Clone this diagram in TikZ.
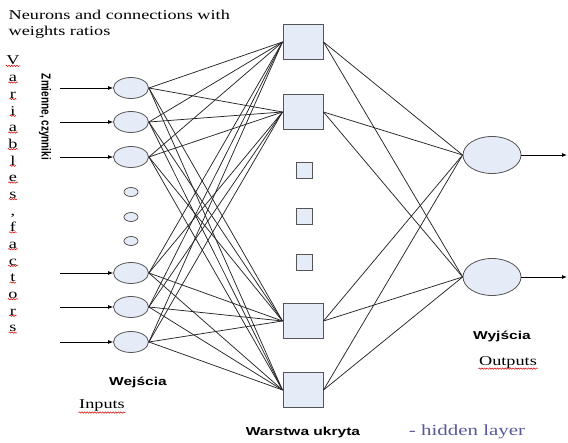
\documentclass[tikz,border=0pt]{standalone}
\usepackage{fontspec}
\setmainfont{Liberation Serif}
\setsansfont{Liberation Sans}
\usepackage{graphicx}
\usetikzlibrary{arrows.meta,shapes.geometric,decorations.pathmorphing}

\definecolor{cellfill}{RGB}{230,236,247}
\definecolor{cellline}{RGB}{85,85,85}
\definecolor{notecol}{RGB}{88,88,150}
\newcommand{\wide}[1]{\scalebox{1.35}[1]{#1}}

\begin{document}
\begin{tikzpicture}[x=1pt,y=-1pt,
    neuron/.style={ellipse,draw=cellline,fill=cellfill,line width=0.8pt,inner sep=0pt,
      minimum width=35pt,minimum height=21pt},
    dotneuron/.style={neuron,minimum width=14pt,minimum height=9pt},
    unit/.style={rectangle,draw=cellline,fill=cellfill,line width=1pt,inner sep=0pt,
      minimum width=40pt,minimum height=35pt},
    dotunit/.style={unit,line width=0.8pt,minimum width=16pt,minimum height=16pt},
    outneuron/.style={neuron,minimum width=58pt,minimum height=37pt},
    link/.style={draw=black!85,line width=0.75pt},
    feed/.style={draw=black,line width=0.8pt,-{Latex[length=5pt,width=4pt]}},
    txt/.style={inner sep=0.5pt,font=\fontsize{13.5}{15}\selectfont},
    lbl/.style={inner sep=0pt,font=\fontsize{11.5}{13}\selectfont\sffamily\bfseries},
    spell/.style={draw=red!85!black,line width=0.5pt,decorate,
      decoration={snake,amplitude=0.7pt,segment length=2.6pt}}]

    \useasboundingbox (0,0) rectangle (568,443);

    % Heading
    \node[txt,anchor=base west] (head1) at (8,20) {\wide{Neurons and connections with}};
    \node[txt,anchor=base west] (head2) at (8,36) {\wide{weights ratios}};

    % Spelled column on the far left
    \foreach \ch [count=\i] in {V,a,r,i,a,b,l,e,s,{,},f,a,c,t,o,r,s} {
      \node[txt,anchor=base] (ltr\i) at (13,{65+16.67*(\i-1)}) {\wide{\ch}};
      \ifnum\i=10\else
        \draw[spell] (ltr\i.south west) -- (ltr\i.south east);
      \fi
    }

    \node[inner sep=0pt,rotate=-90,font=\fontsize{10}{12}\selectfont\sffamily\bfseries] (vars) at (45,117)
      {\scalebox{1}[1.3]{Zmienne, czynniki}};

    % Input layer
    \foreach \n/\y in {1/88,2/122,3/157,4/273,5/307,6/342} {
      \node[neuron] (in\n) at (131,\y) {};
      \coordinate (src\n) at (60,\y);
      \draw[feed] (src\n) -- (in\n.west);
    }
    \foreach \n/\y in {1/192,2/217,3/241}
      \node[dotneuron] (dot\n) at (131,\y) {};

    % Hidden layer
    \foreach \n/\y in {1/42,2/112,3/321,4/390}
      \node[unit] (hid\n) at (303,\y) {};
    \foreach \n/\y in {1/170,2/216,3/262}
      \node[dotunit] (hdot\n) at (304,\y) {};

    % Output layer
    \foreach \n/\y in {1/155,2/277} {
      \node[outneuron] (out\n) at (492,\y) {};
      \coordinate (res\n) at (567,\y);
      \draw[feed] (out\n.east) -- (res\n);
    }

    % Weighted connections
    \foreach \i in {1,...,6}
      \foreach \j in {1,...,4}
        \draw[link] (in\i.east) -- (hid\j.west);
    \foreach \j in {1,...,4}
      \foreach \k in {1,2}
        \draw[link] (hid\j.east) -- (out\k.west);

    % Layer captions
    \node[lbl] (inlbl) at (138,382) {\wide{Wejścia}};
    \node[txt] (inname) at (102,406) {\wide{Inputs}};
    \draw[spell] (inname.south west) -- (inname.south east);
    \node[lbl] (hidlbl) at (303,433) {\wide{Warstwa ukryta}};
    \node[txt,text=notecol,font=\fontsize{15.5}{17}\selectfont] (hidname) at (467,432) {\wide{- hidden layer}};
    \node[lbl] (outlbl) at (502,336) {\wide{Wyjścia}};
    \node[txt] (outname) at (508,362) {\wide{Outputs}};
    \draw[spell] (outname.south west) -- (outname.south east);
  \end{tikzpicture}
\end{document}
